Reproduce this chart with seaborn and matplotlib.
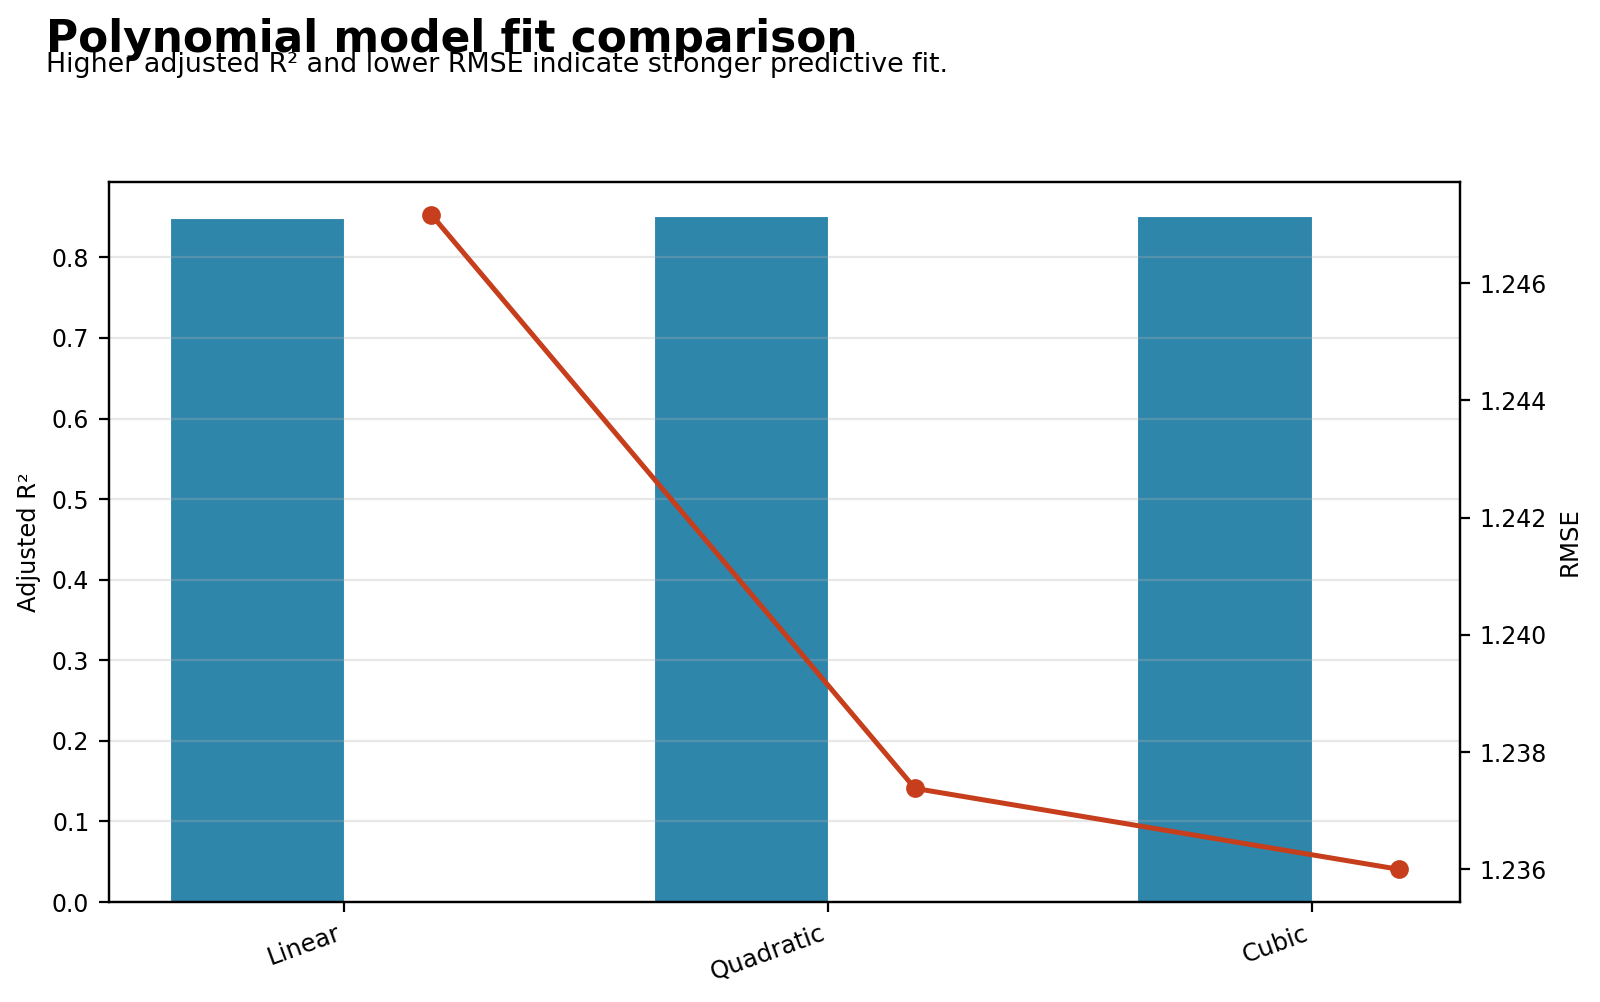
import matplotlib
matplotlib.use("Agg")
import matplotlib.pyplot as plt
import seaborn as sns
import numpy as np

# model comparison values
models = ["Linear", "Quadratic", "Cubic"]
adj_r2 = [0.849, 0.851, 0.851]
rmse = [1.24717, 1.23738, 1.23600]

bar_color = "#2E86AB"
line_color = "#C73E1D"

pos = np.arange(len(models))
offset = 0.18

fig = plt.figure(figsize=(8, 5.01), dpi=200)
ax = fig.add_axes([0.068, 0.0998, 0.8445, 0.7186])

# bars sit left of the tick, the RMSE points right of it
sns.barplot(x=pos - offset, y=adj_r2, native_scale=True, width=0.36,
            color=bar_color, saturation=1, edgecolor="white", linewidth=0.4, ax=ax)
ax.grid(axis="y", alpha=0.3)
ax.set_ylabel("Adjusted R²", fontsize=8.7)
ax.set_xlabel("")
ax.tick_params(axis="y", labelsize=8.5)
ax.set_xticks(pos)
ax.set_xticklabels(models, rotation=20, ha="right", fontsize=8.8)

ax2 = ax.twinx()
sns.lineplot(x=pos + offset, y=rmse, marker="o", color=line_color, linewidth=1.8,
             markersize=6, markeredgecolor=line_color, ax=ax2)
ax2.set_ylabel("RMSE", fontsize=8.8)
ax2.tick_params(labelsize=8.5)

fig.text(0.029, 0.948, "Polynomial model fit comparison", fontsize=15.8,
         fontweight="bold", va="baseline")
fig.text(0.029, 0.928, "Higher adjusted R² and lower RMSE indicate stronger predictive fit.",
         fontsize=9.7, va="baseline")

fig.savefig("out.png", dpi=200)
plt.close(fig)
